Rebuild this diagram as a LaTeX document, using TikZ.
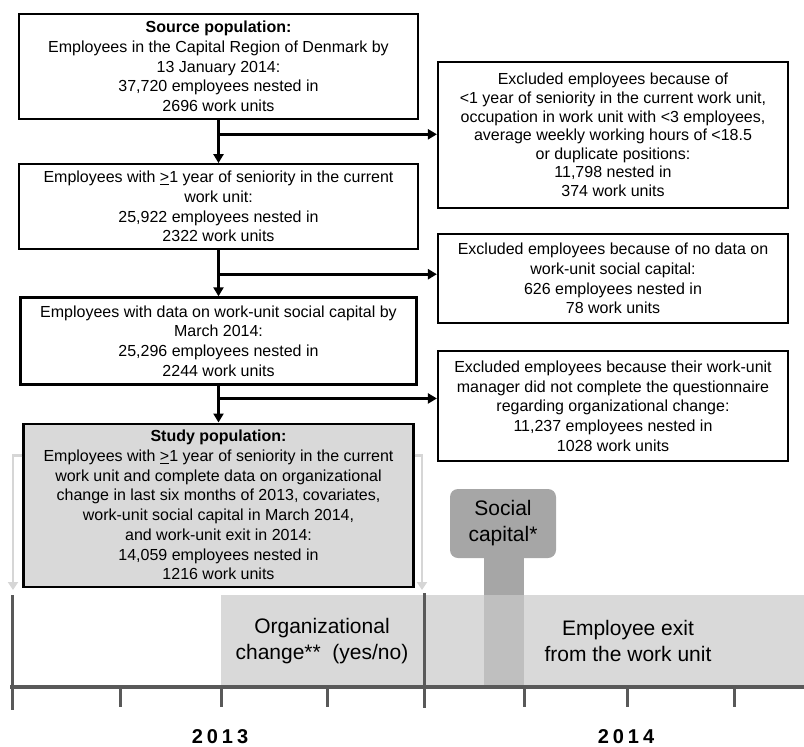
\documentclass[tikz,border=0pt]{standalone}
\usepackage{fontspec}
\setmainfont{Liberation Sans}
\usetikzlibrary{arrows.meta, calc, positioning}
\definecolor{linecol}{RGB}{0, 0, 0}
\definecolor{studycol}{RGB}{217, 217, 217}
\definecolor{bandcol}{RGB}{217, 217, 217}
\definecolor{capcol}{RGB}{166, 166, 166}
\definecolor{stemcol}{RGB}{191, 191, 191}
\definecolor{axiscol}{RGB}{89, 89, 89}
\definecolor{guidecol}{RGB}{214, 214, 214}
\tikzset{
  blk/.style      = {draw=linecol, line width=2.2pt, align=center, inner sep=3pt,
                     font=\fontsize{16}{19.7}\selectfont},
  incl/.style     = {blk, fill=white, minimum width=399pt},
  excl/.style     = {blk, fill=white, minimum width=350pt},
  studybox/.style = {blk, fill=studycol, minimum width=390pt, minimum height=163pt},
  flow/.style     = {-{Triangle[length=9pt, width=10pt]}, draw=linecol, line width=3pt},
  % the two pale arrows drop the study window onto the time axis
  guide/.style    = {-{Triangle[length=8pt, width=10pt]}, draw=guidecol, line width=2.5pt},
  band/.style     = {fill=bandcol, draw=none},
  axis/.style     = {draw=axiscol, line width=4.5pt},
  tickln/.style   = {draw=axiscol, line width=3pt},
  capbox/.style   = {fill=capcol, rounded corners=8pt, minimum width=106pt,
                     minimum height=69pt, align=center, inner sep=0pt,
                     font=\fontsize{21}{26}\selectfont},
  tl/.style       = {font=\fontsize{21}{26}\selectfont, align=center, inner sep=0pt},
  year/.style     = {font=\fontsize{20}{24}\selectfont\bfseries, inner sep=0pt},
}

\begin{document}
\begin{tikzpicture}[x=1pt, y=-1pt]

  \useasboundingbox (0,0) rectangle (804,747);

  %% ---------------- the flow ----------------
  \node[incl, minimum height=105pt] (src) at (218.5,66.5)
       {\textbf{Source population:}\\
        Employees in the Capital Region of Denmark by\\
        13 January 2014:\\
        37,720 employees nested in\\
        2696 work units};
  \node[incl, minimum height=85pt, below=43pt of src] (sen)
       {Employees with \underline{>}1 year of seniority in the current\\
        work unit:\\
        25,922 employees nested in\\
        2322 work units};
  \node[incl, minimum width=396pt, minimum height=87pt, below=46pt of sen] (soc)
       {Employees with data on work-unit social capital by\\
        March 2014:\\
        25,296 employees nested in\\
        2244 work units};
  \node[studybox, below=37pt of soc] (study)
       {\textbf{Study population:}\\
        Employees with \underline{>}1 year of seniority in the current\\
        work unit and complete data on organizational\\
        change in last six months of 2013, covariates,\\
        work-unit social capital in March 2014,\\
        and work-unit exit in 2014:\\
        14,059 employees nested in\\
        1216 work units};

  %% ---------------- the exclusions ----------------
  \node[excl, minimum height=146pt, font=\fontsize{16}{18.6}\selectfont] (exsen) at (613,135)
       {Excluded employees because of\\
        <1 year of seniority in the current work unit,\\
        occupation in work unit with <3 employees,\\
        average weekly working hours of <18.5\\
        or duplicate positions:\\
        11,798 nested in\\
        374 work units};
  \node[excl, minimum height=89pt] (exsoc) at (613,278.5)
       {Excluded employees because of no data on\\
        work-unit social capital:\\
        626 employees nested in\\
        78 work units};
  \node[excl, minimum height=110pt] (exmgr) at (613,406)
       {Excluded employees because their work-unit\\
        manager did not complete the questionnaire\\
        regarding organizational change:\\
        11,237 employees nested in\\
        1028 work units};

  %% ---------------- edges ----------------
  \draw[flow] (src) -- (sen);
  \draw[flow] (sen) -- (soc);
  \draw[flow] (soc) -- (study);

  \coordinate (b1) at ($(src.south)!0.33!(sen.north)$);
  \coordinate (b2) at ($(sen.south)!0.52!(soc.north)$);
  \coordinate (b3) at ($(soc.south)!0.35!(study.north)$);
  \draw[flow] (b1) -- (b1 -| exsen.west);
  \draw[flow] (b2) -- (b2 -| exsoc.west);
  \draw[flow] (b3) -- (b3 -| exmgr.west);

  \coordinate (lfoot) at (13,590);
  \coordinate (rfoot) at (422,590);
  \draw[guide] ([yshift=-33pt]study.north west) -| (lfoot);
  \draw[guide] ([yshift=-33pt]study.north east) -| (rfoot);

  %% ---------------- the time axis ----------------
  \fill[band] (221,595) rectangle (424,687);
  \fill[band] (424,595) rectangle (804,687);

  \node[capbox] (cap) at (503,523.5) {Social\\capital*};
  \fill[capcol] (484,555) rectangle (524,595);
  \fill[stemcol] (484,595) rectangle (524,687);

  \draw[axis] (10,687) -- (804,687);
  \foreach \x in {120,221,327,524,627,734}
    \draw[tickln] (\x,687) -- (\x,707);
  \draw[tickln] (12,595) -- (12,710);
  \draw[tickln] (424,593) -- (424,708);

  \node[tl] (org) at (322,641) {Organizational\\change**~~(yes/no)};
  \node[tl] (exit) at (628,641) {Employee exit\\from the work unit};

  \node[year] (y13) at (220,737) {2\kern4pt0\kern4pt1\kern4pt3};
  \node[year] (y14) at (626,737) {2\kern4pt0\kern4pt1\kern4pt4};

\end{tikzpicture}
\end{document}
